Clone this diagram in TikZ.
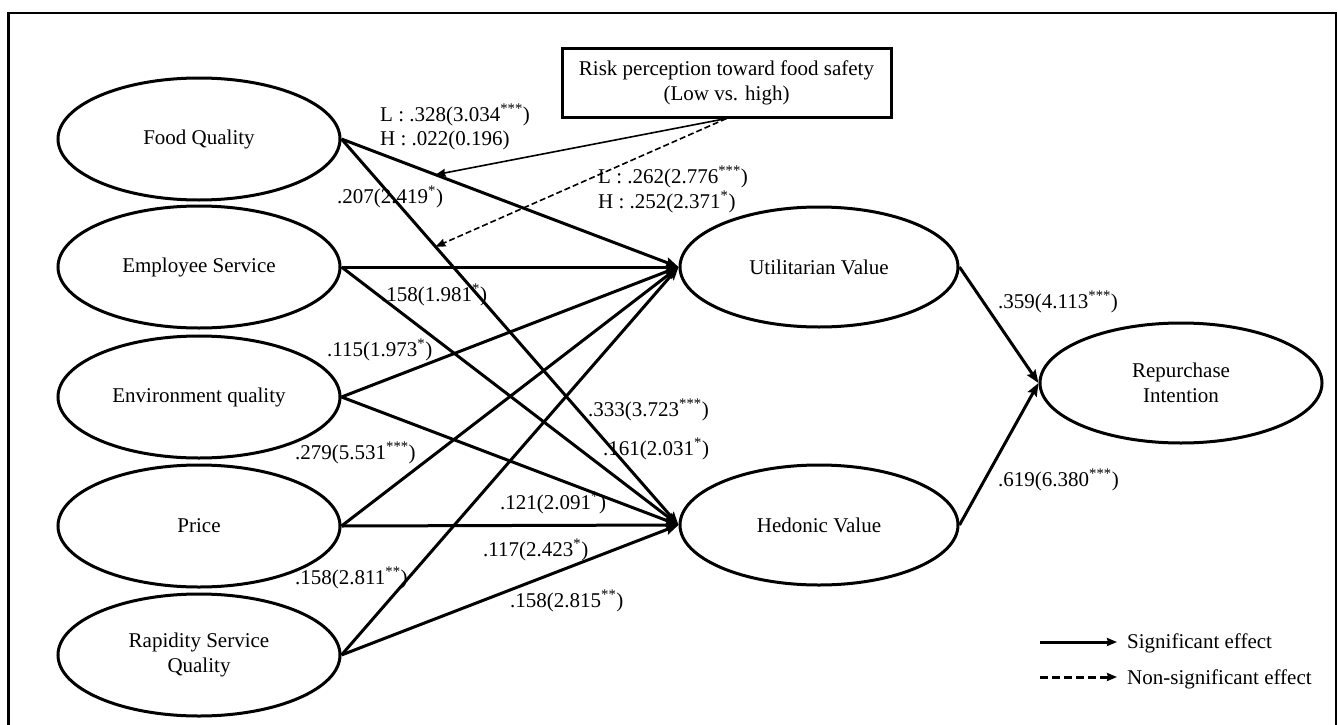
\documentclass[tikz,border=0pt]{standalone}
\usepackage{fontspec}
\setmainfont{Liberation Serif}
\usetikzlibrary{arrows.meta,shapes.geometric}
\begin{document}
\begin{tikzpicture}[x=1pt,y=-1pt,
  every node/.style={font=\fontsize{21}{25}\selectfont},
  construct/.style={draw,ellipse,line width=3pt,minimum width=282pt,minimum height=122pt,inner sep=0pt,align=center},
  lbl/.style={anchor=west,inner sep=0pt},
  effect/.style={line width=3pt,-{Stealth[length=13pt,width=10pt,inset=2pt]}},
  modsig/.style={line width=1.6pt,-{Stealth[length=10pt,width=8pt,inset=1pt]}},
  modns/.style={line width=1.6pt,dash pattern=on 6pt off 3pt,-{Stealth[length=10pt,width=8pt,inset=1pt]}},
  legsig/.style={line width=3pt,-{Stealth[length=10pt,width=8pt,inset=1pt]}},
  legns/.style={line width=3pt,dash pattern=on 8pt off 4pt,-{Stealth[length=10pt,width=8pt,inset=1pt]}},
]
\useasboundingbox (0,0) rectangle (1338,725);
\fill[white] (0,0) rectangle (1338,725);
% frame
\draw[line width=2.5pt] (8.5,725) -- (8.5,13) -- (1336,13) -- (1336,725);

% constructs
\node[construct] (fq)  at (199,139) {Food Quality};
\node[construct] (es)  at (199,267) {Employee Service};
\node[construct] (env) at (199,397) {Environment quality};
\node[construct] (pr)  at (199,526) {Price};
\node[construct] (rap) at (199,655) {Rapidity Service\\Quality};
\node[construct,minimum width=278pt,minimum height=120pt] (uv) at (819,267) {Utilitarian Value};
\node[construct,minimum width=278pt,minimum height=120pt] (hv) at (819,525) {Hedonic Value};
\node[construct,minimum width=282pt,minimum height=120pt] (ri) at (1181,383) {Repurchase\\Intention};

% moderator box
\node[draw,line width=3pt,minimum width=329pt,minimum height=68pt,inner sep=0pt,align=center] (risk) at (726.5,83) {Risk perception toward food safety\\(Low vs. high)};

% paths to utilitarian
\draw[effect] (fq.east) -- (uv.west);
\draw[effect] (es.east) -- (uv.west);
\draw[effect] (env.east) -- (uv.west);
\draw[effect] (pr.east) -- (uv.west);
\draw[effect] (rap.east) -- (uv.west);
% paths to hedonic
\draw[effect] (fq.east) -- (hv.west);
\draw[effect] (es.east) -- (hv.west);
\draw[effect] (env.east) -- (hv.west);
\draw[effect] (pr.east) -- (hv.west);
\draw[effect] (rap.east) -- (hv.west);
% to repurchase
\draw[effect] (uv.east) -- (ri.west);
\draw[effect] (hv.east) -- (ri.west);

% moderation
\path (fq.east) -- (uv.west) coordinate[pos=0.279] (m1);
\path (fq.east) -- (hv.west) coordinate[pos=0.279] (m2);
\draw[modsig] (risk.south) -- (m1);
\draw[modns] (risk.south) -- (m2);

% labels
\node[lbl] (l1) at (380,115) {L : .328(3.034\textsuperscript{***})};
\node[lbl] (l2) at (380,140) {H : .022(0.196)};
\node[lbl] (l3) at (337,197) {.207(2.419\textsuperscript{*})};
\node[lbl] (l4) at (598,177) {L : .262(2.776\textsuperscript{***})};
\node[lbl] (l5) at (598,202) {H : .252(2.371\textsuperscript{*})};
\node[lbl] (l6) at (381,295) {.158(1.981\textsuperscript{*})};
\node[lbl] (l7) at (327,350) {.115(1.973\textsuperscript{*})};
\node[lbl] (l8) at (588,410) {.333(3.723\textsuperscript{***})};
\node[lbl] (l9) at (295,453) {.279(5.531\textsuperscript{***})};
\node[lbl] (l10) at (603,449) {.161(2.031\textsuperscript{*})};
\node[lbl] (l11) at (500,503) {.121(2.091\textsuperscript{*})};
\node[lbl] (l12) at (483,550) {.117(2.423\textsuperscript{*})};
\node[lbl] (l13) at (295,578) {.158(2.811\textsuperscript{**})};
\node[lbl] (l14) at (510,601) {.158(2.815\textsuperscript{**})};
\node[lbl] (l15) at (998,302) {.359(4.113\textsuperscript{***})};
\node[lbl] (l16) at (998,480) {.619(6.380\textsuperscript{***})};

% legend
\coordinate (ls1) at (1040,642);
\coordinate (le1) at (1117,642);
\coordinate (ls2) at (1040,677);
\coordinate (le2) at (1117,677);
\draw[legsig] (ls1) -- (le1);
\draw[legns] (ls2) -- (le2);
\node[lbl] (lt1) at (1127,643) {Significant effect};
\node[lbl] (lt2) at (1127,679) {Non-significant effect};
\end{tikzpicture}
\end{document}
